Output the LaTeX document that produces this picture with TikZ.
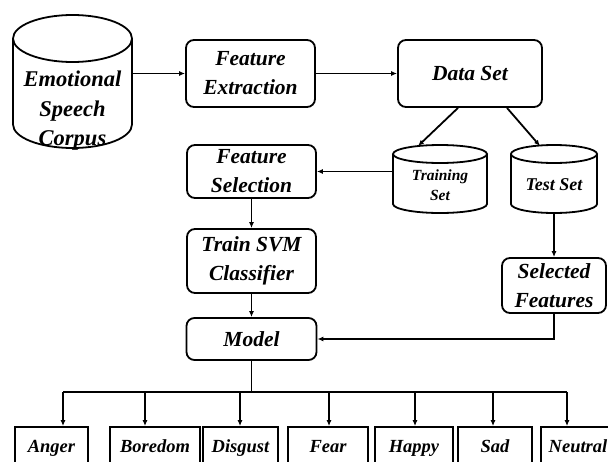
\documentclass[tikz,border=0pt]{standalone}
\usepackage{fontspec}
\setmainfont{Liberation Serif}
\usetikzlibrary{arrows.meta,calc}
\newcommand\cylout[3]{%
  \draw ($(#1.north west)+(0,#3)$) -- ($(#1.south west)+(0,-#3)$)
    arc[start angle=180,end angle=360,x radius=#2pt,y radius=#3pt]
    -- ($(#1.north east)+(0,#3)$);
  \draw ($(#1.north)+(0,#3)$) ellipse[x radius=#2pt,y radius=#3pt];}
\begin{document}
\begin{tikzpicture}[x=1pt,y=-1pt,line width=1.8pt,
  mainfont/.style={font=\bfseries\itshape\fontsize{21.5}{29}\selectfont},
  box/.style={draw,rounded corners=8pt,align=center,inner sep=0pt,mainfont},
  leaf/.style={draw,align=center,inner sep=0pt,minimum height=42pt,
    text height=12.5pt,text depth=4.5pt,
    font=\bfseries\itshape\fontsize{18.5}{22}\selectfont},
  body/.style={inner sep=0pt,outer sep=0pt},
  lbl/.style={align=center,inner sep=0pt},
  arr/.style={-{Latex[length=6pt,width=5pt]}}]
\useasboundingbox (0,0) rectangle (608,461);
\clip (0,0) rectangle (608,461);

% main boxes
\node[box,minimum width=129pt,minimum height=67pt] (fe) at (250.5,73.5) {Feature\\Extraction};
\node[box,minimum width=144pt,minimum height=67pt] (ds) at (470,73.5) {Data Set};
\node[box,minimum width=129pt,minimum height=53pt] (fs) at (251.5,171.5) {Feature\\Selection};
\node[box,minimum width=129pt,minimum height=64pt] (svm) at (251.5,261) {Train SVM\\Classifier};
\node[box,minimum width=130pt,minimum height=42pt] (model) at (251.5,339) {Model};
\node[box,minimum width=104pt,minimum height=55pt] (sf) at (554,285.5) {Selected\\Features};

% cylinders
\node[body,minimum width=119pt,minimum height=133pt] (corpus) at (72.5,81.5) {};
\cylout{corpus}{59.5}{23.5}
\node[lbl,font=\bfseries\itshape\fontsize{22.5}{29.5}\selectfont] (corpuslbl) at (72.5,111) {Emotional\\Speech\\Corpus};

\node[body,minimum width=94pt,minimum height=68pt] (train) at (440,179) {};
\cylout{train}{47}{9}
\node[lbl,font=\bfseries\itshape\fontsize{15.5}{20}\selectfont] (trainlbl) at (440,185) {Training\\Set};

\node[body,minimum width=86pt,minimum height=68pt] (test) at (554,179) {};
\cylout{test}{43}{9}
\node[lbl,font=\bfseries\itshape\fontsize{18}{22}\selectfont] (testlbl) at (554,185) {Test Set};

% leaves
\node[leaf,minimum width=73pt] (anger) at (51.5,448) {Anger};
\node[leaf,minimum width=90pt] (boredom) at (155,448) {Boredom};
\node[leaf,minimum width=75pt] (disgust) at (240.5,448) {Disgust};
\node[leaf,minimum width=80pt] (fear) at (328,448) {Fear};
\node[leaf,minimum width=78pt] (happy) at (414,448) {Happy};
\node[leaf,minimum width=74pt] (sad) at (495,448) {Sad};
\node[leaf,minimum width=74pt] (neutral) at (578,448) {Neutral};

% connectors
\draw[arr] (corpus.east |- fe.west) -- (fe.west);
\draw[arr] (fe.east) -- (ds.west);
\draw[arr] ($(ds.south)+(-12,0)$) -- ($(train.north)+(-22,1)$);
\draw[arr] ($(ds.south)+(37,0)$) -- ($(test.north)+(-14,1)$);
\draw[arr] (train.west |- fs.east) -- (fs.east);
\draw[arr] (fs.south) -- (svm.north);
\draw[arr] (svm.south) -- (model.north);
\draw[arr] (test.south) -- (sf.north);
\draw[arr] (sf.south) |- (model.east);

\coordinate (bus) at (251.5,392);
\coordinate (tA) at ($(anger.north)+(11.5,0)$);
\coordinate (tB) at ($(boredom.north)+(-10,0)$);
\coordinate (tD) at ($(disgust.north)+(-0.5,0)$);
\coordinate (tF) at ($(fear.north)+(1,0)$);
\coordinate (tH) at ($(happy.north)+(1,0)$);
\coordinate (tS) at ($(sad.north)+(-2,0)$);
\coordinate (tN) at ($(neutral.north)+(-11,0)$);
\draw (model.south) -- (bus);
\draw (tA |- bus) -- (tN |- bus);
\foreach \t in {tA,tB,tD,tF,tH,tS,tN}
  \draw[arr] (\t |- bus) -- (\t);
\end{tikzpicture}
\end{document}
